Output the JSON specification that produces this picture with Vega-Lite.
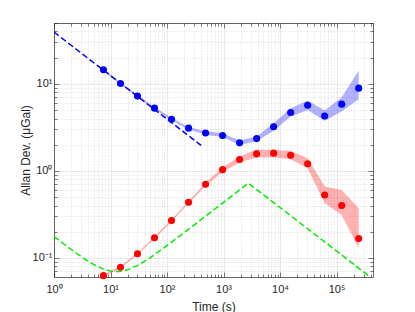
{
  "$schema": "https://vega.github.io/schema/vega-lite/v6.json",
  "width": 319,
  "height": 254,
  "autosize": "none",
  "padding": {"left": 54, "top": 23, "right": 42, "bottom": 35},
  "background": "white",
  "config": {"view": {"stroke": null}, "font": "Liberation Sans"},
  "datasets": {
    "blue": [
      {"t": 7.5, "y": 14.5, "lo": 14.1, "hi": 14.9},
      {"t": 15, "y": 10.1, "lo": 9.8, "hi": 10.4},
      {"t": 30, "y": 7.23, "lo": 7.0, "hi": 7.45},
      {"t": 60, "y": 5.26, "lo": 5.1, "hi": 5.42},
      {"t": 120, "y": 3.93, "lo": 3.8, "hi": 4.06},
      {"t": 240, "y": 3.1, "lo": 3.0, "hi": 3.2},
      {"t": 480, "y": 2.73, "lo": 2.6, "hi": 2.86},
      {"t": 960, "y": 2.55, "lo": 2.45, "hi": 2.71},
      {"t": 1920, "y": 2.1, "lo": 1.98, "hi": 2.23},
      {"t": 3840, "y": 2.35, "lo": 2.19, "hi": 2.48},
      {"t": 7680, "y": 3.21, "lo": 2.9, "hi": 3.53},
      {"t": 15360, "y": 4.68, "lo": 4.21, "hi": 5.26},
      {"t": 30720, "y": 5.69, "lo": 5.02, "hi": 6.43},
      {"t": 61440, "y": 4.28, "lo": 3.78, "hi": 4.93},
      {"t": 122880, "y": 5.85, "lo": 4.81, "hi": 7.03},
      {"t": 245760, "y": 8.93, "lo": 6.67, "hi": 14.1}
    ],
    "red": [
      {"t": 7.5, "y": 0.0627, "lo": 0.061, "hi": 0.0645},
      {"t": 15, "y": 0.0782, "lo": 0.076, "hi": 0.0805},
      {"t": 30, "y": 0.112, "lo": 0.109, "hi": 0.115},
      {"t": 60, "y": 0.171, "lo": 0.166, "hi": 0.176},
      {"t": 120, "y": 0.269, "lo": 0.261, "hi": 0.277},
      {"t": 240, "y": 0.436, "lo": 0.423, "hi": 0.449},
      {"t": 480, "y": 0.703, "lo": 0.675, "hi": 0.73},
      {"t": 960, "y": 1.035, "lo": 0.975, "hi": 1.095},
      {"t": 1920, "y": 1.35, "lo": 1.25, "hi": 1.46},
      {"t": 3840, "y": 1.57, "lo": 1.43, "hi": 1.76},
      {"t": 7680, "y": 1.6, "lo": 1.44, "hi": 1.74},
      {"t": 15360, "y": 1.51, "lo": 1.36, "hi": 1.7},
      {"t": 30720, "y": 1.21, "lo": 1.07, "hi": 1.4},
      {"t": 61440, "y": 0.53, "lo": 0.426, "hi": 0.661},
      {"t": 122880, "y": 0.4, "lo": 0.312, "hi": 0.605},
      {"t": 245760, "y": 0.167, "lo": 0.129, "hi": 0.372}
    ],
    "bluefit": [
      {"t": 1, "y": 39.3},
      {"t": 400, "y": 1.965}
    ],
    "green": [
      {"t": 1, "y": 0.1765},
      {"t": 1.5, "y": 0.1447},
      {"t": 2, "y": 0.126},
      {"t": 3, "y": 0.1044},
      {"t": 4, "y": 0.0922},
      {"t": 5, "y": 0.0845},
      {"t": 7, "y": 0.0759},
      {"t": 10, "y": 0.0707},
      {"t": 14, "y": 0.0698},
      {"t": 20, "y": 0.0731},
      {"t": 30, "y": 0.0821},
      {"t": 50, "y": 0.1006},
      {"t": 70, "y": 0.1173},
      {"t": 100, "y": 0.139},
      {"t": 200, "y": 0.1954},
      {"t": 300, "y": 0.239},
      {"t": 500, "y": 0.3084},
      {"t": 1000, "y": 0.436},
      {"t": 2000, "y": 0.6166},
      {"t": 2750, "y": 0.723},
      {"t": 440000, "y": 0.0572}
    ]
  },
  "resolve": {"axis": {"x": "independent", "y": "independent"}},
  "layer": [
    {
      "data": {"name": "blue"},
      "mark": {"type": "area", "color": "#0000ff", "opacity": 0.3, "clip": true},
      "encoding": {
        "x": {
          "field": "t", "type": "quantitative",
          "scale": {"type": "log", "domain": [1, 440000], "nice": false},
          "axis": {
            "orient": "bottom",
            "values": [1,2,3,4,5,6,7,8,9,10,20,30,40,50,60,70,80,90,100,200,300,400,500,600,700,800,900,1000,2000,3000,4000,5000,6000,7000,8000,9000,10000,20000,30000,40000,50000,60000,70000,80000,90000,100000,200000,300000,400000],
            "labelExpr": "abs(log(datum.value)/LN10 - round(log(datum.value)/LN10)) < 1e-6 ? ['10⁻¹','10⁰','10¹','10²','10³','10⁴','10⁵'][round(log(datum.value)/LN10)+1] : ''",
            "title": "Time (s)",
            "grid": true,
            "gridColor": {"condition": {"test": "abs(log(datum.value)/LN10 - round(log(datum.value)/LN10)) < 1e-6", "value": "#dcdcdc"}, "value": "#c4c4c4"},
            "gridDash": {"condition": {"test": "abs(log(datum.value)/LN10 - round(log(datum.value)/LN10)) < 1e-6", "value": []}, "value": [1, 2]},
            "gridWidth": 0.6,
            "tickSize": {"condition": {"test": "abs(log(datum.value)/LN10 - round(log(datum.value)/LN10)) < 1e-6", "value": -5}, "value": -3},
            "tickColor": "#262626",
            "tickWidth": 0.6,
            "domainColor": "#262626",
            "domainWidth": 0.7,
            "labelColor": "#262626",
            "labelFontSize": 11,
            "labelPadding": 11,
            "labelOverlap": false,
            "labelFlush": false,
            "labelBound": false,
            "titleColor": "#262626",
            "titleFontSize": 12,
            "titleFontWeight": "normal",
            "titlePadding": 5
          }
        },
        "y": {
          "field": "lo", "type": "quantitative",
          "scale": {"type": "log", "domain": [0.0605, 50], "nice": false},
          "axis": {
            "orient": "left",
            "values": [0.07,0.08,0.09,0.1,0.2,0.3,0.4,0.5,0.6,0.7,0.8,0.9,1,2,3,4,5,6,7,8,9,10,20,30,40,50],
            "labelExpr": "abs(log(datum.value)/LN10 - round(log(datum.value)/LN10)) < 1e-6 ? ['10⁻¹','10⁰','10¹','10²'][round(log(datum.value)/LN10)+1] : ''",
            "title": "Allan Dev. (μGal)",
            "grid": true,
            "gridColor": {"condition": {"test": "abs(log(datum.value)/LN10 - round(log(datum.value)/LN10)) < 1e-6", "value": "#dcdcdc"}, "value": "#c4c4c4"},
            "gridDash": {"condition": {"test": "abs(log(datum.value)/LN10 - round(log(datum.value)/LN10)) < 1e-6", "value": []}, "value": [1, 2]},
            "gridWidth": 0.6,
            "tickSize": {"condition": {"test": "abs(log(datum.value)/LN10 - round(log(datum.value)/LN10)) < 1e-6", "value": -5}, "value": -3},
            "tickColor": "#262626",
            "tickWidth": 0.6,
            "domainColor": "#262626",
            "domainWidth": 0.7,
            "labelColor": "#262626",
            "labelFontSize": 11,
            "labelPadding": 7,
            "labelOverlap": false,
            "labelFlush": false,
            "labelBound": false,
            "titleColor": "#262626",
            "titleFontSize": 12,
            "titleFontWeight": "normal",
            "titlePadding": 0
          }
        },
        "y2": {"field": "hi"}
      }
    },
    {
      "data": {"name": "red"},
      "mark": {"type": "area", "color": "#ff0000", "opacity": 0.3, "clip": true},
      "encoding": {
        "x": {"field": "t", "type": "quantitative", "axis": null},
        "y": {"field": "lo", "type": "quantitative", "axis": null},
        "y2": {"field": "hi"}
      }
    },
    {
      "data": {"name": "bluefit"},
      "mark": {"type": "line", "color": "#0000ff", "strokeWidth": 1.5, "strokeDash": [6, 3], "clip": true},
      "encoding": {
        "x": {"field": "t", "type": "quantitative", "axis": null},
        "y": {"field": "y", "type": "quantitative", "axis": null}
      }
    },
    {
      "data": {"name": "green"},
      "mark": {"type": "line", "color": "#00f000", "strokeWidth": 1.5, "strokeDash": [6, 3], "clip": true},
      "encoding": {
        "x": {
          "field": "t", "type": "quantitative",
          "axis": {
            "orient": "top",
            "values": [1,2,3,4,5,6,7,8,9,10,20,30,40,50,60,70,80,90,100,200,300,400,500,600,700,800,900,1000,2000,3000,4000,5000,6000,7000,8000,9000,10000,20000,30000,40000,50000,60000,70000,80000,90000,100000,200000,300000,400000],
            "labels": false, "grid": false, "title": null,
            "tickSize": {"condition": {"test": "abs(log(datum.value)/LN10 - round(log(datum.value)/LN10)) < 1e-6", "value": -5}, "value": -3},
            "tickColor": "#262626", "tickWidth": 0.6,
            "domainColor": "#262626", "domainWidth": 0.7
          }
        },
        "y": {
          "field": "y", "type": "quantitative",
          "axis": {
            "orient": "right",
            "values": [0.07,0.08,0.09,0.1,0.2,0.3,0.4,0.5,0.6,0.7,0.8,0.9,1,2,3,4,5,6,7,8,9,10,20,30,40,50],
            "labels": false, "grid": false, "title": null,
            "tickSize": {"condition": {"test": "abs(log(datum.value)/LN10 - round(log(datum.value)/LN10)) < 1e-6", "value": -5}, "value": -3},
            "tickColor": "#262626", "tickWidth": 0.6,
            "domainColor": "#262626", "domainWidth": 0.7
          }
        }
      }
    },
    {
      "data": {"name": "blue"},
      "mark": {"type": "circle", "color": "#0000ff", "opacity": 1, "size": 50},
      "encoding": {
        "x": {"field": "t", "type": "quantitative", "axis": null},
        "y": {"field": "y", "type": "quantitative", "axis": null}
      }
    },
    {
      "data": {"name": "red"},
      "mark": {"type": "circle", "color": "#ff0000", "opacity": 1, "size": 50},
      "encoding": {
        "x": {"field": "t", "type": "quantitative", "axis": null},
        "y": {"field": "y", "type": "quantitative", "axis": null}
      }
    }
  ]
}
